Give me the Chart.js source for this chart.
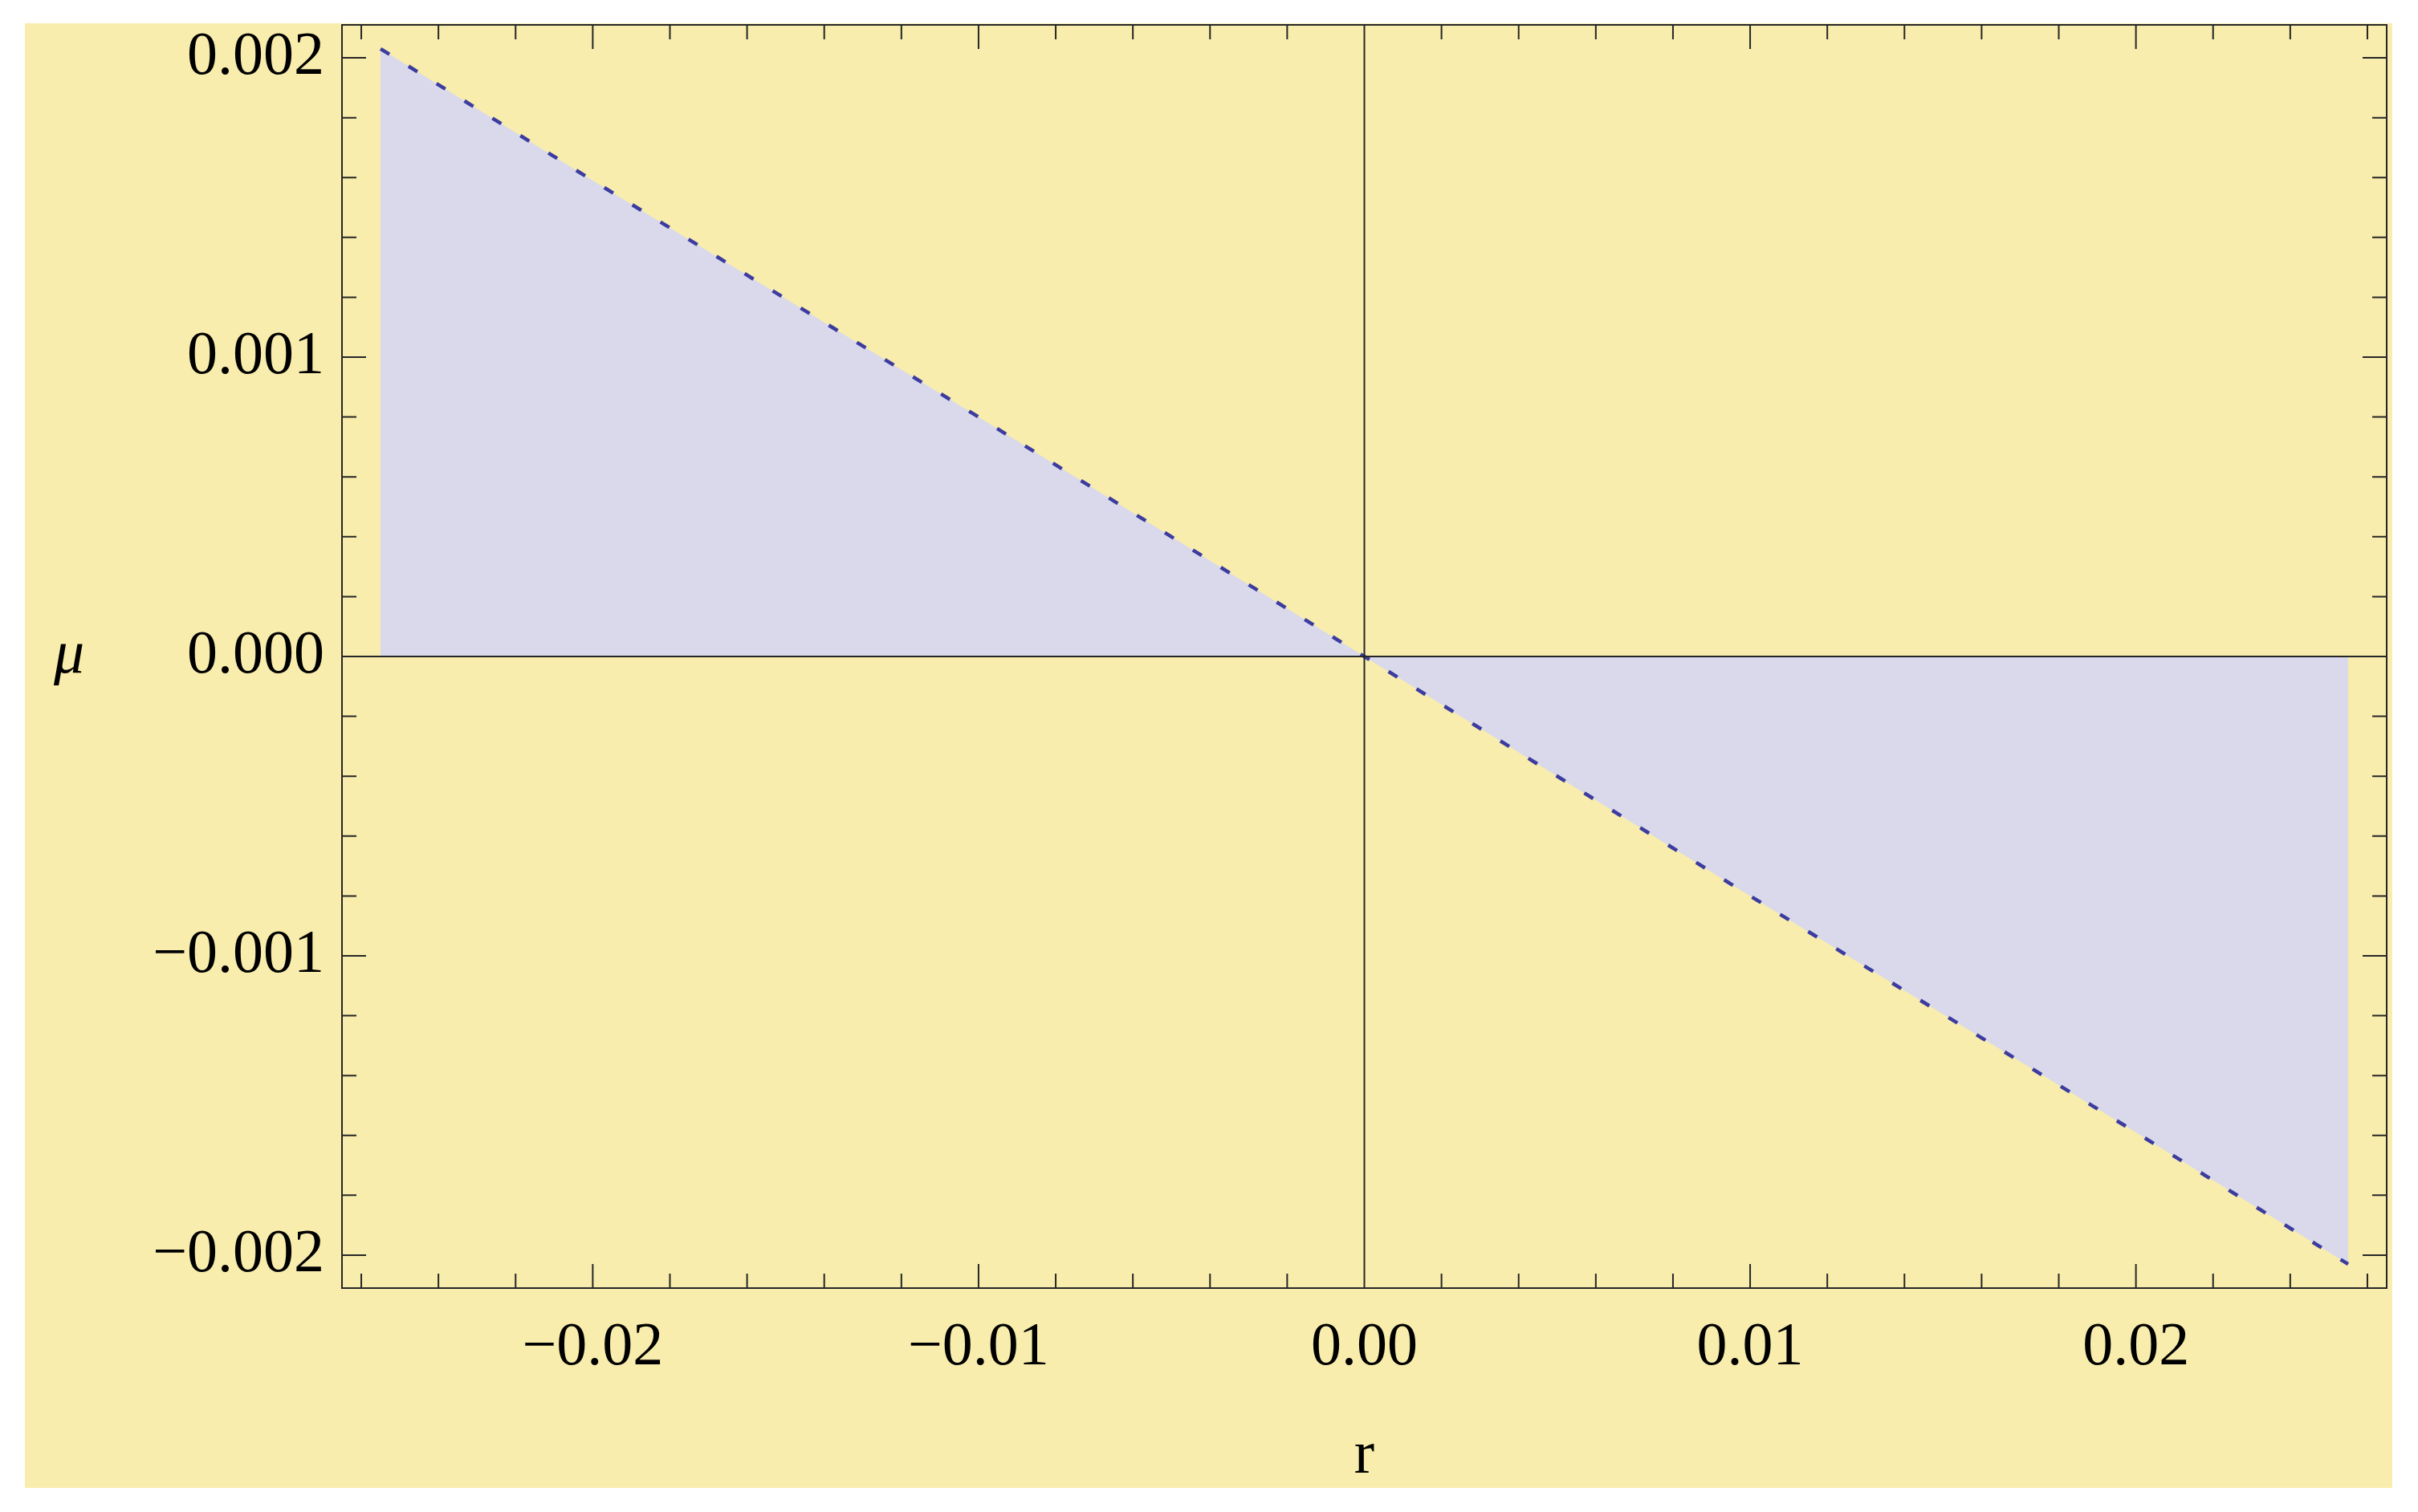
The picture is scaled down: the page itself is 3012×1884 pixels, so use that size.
<!DOCTYPE html>
<html>
<head>
<meta charset="utf-8">
<script src="https://cdn.jsdelivr.net/npm/chart.js@4/dist/chart.umd.min.js"></script>
<style>
  html, body { margin: 0; padding: 0; background: #ffffff; }
  #wrap {
    position: absolute;
    left: 31px; top: 29px;
    width: 2949px; height: 1825px;
    background: #f8edac;
  }
  canvas { display: block; }
</style>
</head>
<body>
<div id="wrap"><canvas id="chart" width="2949" height="1825"></canvas></div>
<script>
// values
const rValues  = [-0.0255, -0.02, -0.01, 0, 0.01, 0.02, 0.0255];
const muValues = [0.00203, 0.00159, 0.0008, 0, -0.0008, -0.00159, -0.00203];

const xTickValues = [-0.02, -0.01, 0, 0.01, 0.02];
const xTickLabels = ['\u22120.02', '\u22120.01', '0.00', '0.01', '0.02'];
const yTickValues = [-0.002, -0.001, 0, 0.001, 0.002];
const yTickLabels = ['\u22120.002', '\u22120.001', '0.000', '0.001', '0.002'];

const xMinorStep = 0.002;
const yMinorStep = 0.0002;

const fontFamily = "'Liberation Serif', 'Times New Roman', Times, serif";
const frameColor = '#262626';

function buildTicks(step, limit, majors) {
  const out = [];
  const n = Math.floor(limit / step + 1e-9);
  for (let i = -n; i <= n; i++) {
    const v = +(i * step).toFixed(6);
    const big = majors.some(m => Math.abs(m - v) < step / 10);
    out.push({ value: v, big: big });
  }
  return out;
}

function labelFor(values, labels) {
  return function(value) {
    const i = values.findIndex(v => Math.abs(v - value) < 1e-9);
    return i >= 0 ? labels[i] : '';
  };
}

// frame, zero axes, inward ticks and the two axis titles
const framePlugin = {
  id: 'framePlugin',
  afterDatasetsDraw(chart) {
    const { ctx, chartArea: a, scales: { x, y } } = chart;
    ctx.save();
    ctx.strokeStyle = frameColor;
    ctx.lineWidth = 2;
    ctx.beginPath();
    const x0 = x.getPixelForValue(0);
    const y0 = y.getPixelForValue(0);
    ctx.moveTo(x0, a.top); ctx.lineTo(x0, a.bottom);
    ctx.moveTo(a.left, y0); ctx.lineTo(a.right, y0);
    x.ticks.forEach(t => {
      const px = x.getPixelForValue(t.value);
      const len = t.big ? 30 : 18;
      ctx.moveTo(px, a.bottom); ctx.lineTo(px, a.bottom - len);
      ctx.moveTo(px, a.top); ctx.lineTo(px, a.top + len);
    });
    y.ticks.forEach(t => {
      const py = y.getPixelForValue(t.value);
      const len = t.big ? 30 : 18;
      ctx.moveTo(a.left, py); ctx.lineTo(a.left + len, py);
      ctx.moveTo(a.right, py); ctx.lineTo(a.right - len, py);
    });
    ctx.stroke();
    ctx.strokeRect(a.left, a.top, a.right - a.left, a.bottom - a.top);

    ctx.fillStyle = '#000';
    ctx.textAlign = 'center';
    ctx.textBaseline = 'middle';
    ctx.font = 'italic 76px ' + fontFamily;
    ctx.fillText('\u03bc', 55, (a.top + a.bottom) / 2);
    ctx.font = '76px ' + fontFamily;
    ctx.fillText('r', (a.left + a.right) / 2, 1786);
    ctx.restore();
  }
};

new Chart(document.getElementById('chart'), {
  type: 'line',
  data: {
    datasets: [{
      data: rValues.map((r, i) => ({ x: r, y: muValues[i] })),
      borderColor: '#3c3ca0',
      borderWidth: 4.5,
      borderDash: [13, 28],
      backgroundColor: '#d9d9eb',
      fill: 'origin',
      pointRadius: 0,
      tension: 0
    }]
  },
  options: {
    responsive: false,
    animation: false,
    layout: { padding: { top: 2, right: 7, left: 0, bottom: 0 } },
    plugins: {
      legend: { display: false },
      tooltip: { enabled: false }
    },
    scales: {
      x: {
        type: 'linear',
        min: -0.0265,
        max: 0.0265,
        grid: { display: false },
        border: { display: false },
        afterBuildTicks(scale) {
          scale.ticks = buildTicks(xMinorStep, 0.0265, xTickValues);
        },
        afterFit(scale) {
          scale.height = 249;
          scale.paddingLeft = 0;
          scale.paddingRight = 0;
          scale.paddingTop = 0;
          scale.paddingBottom = 0;
        },
        ticks: {
          autoSkip: false,
          maxRotation: 0,
          padding: 21,
          color: '#000',
          font: { family: fontFamily, size: 76 },
          callback: labelFor(xTickValues, xTickLabels)
        }
      },
      y: {
        type: 'linear',
        min: -0.00211,
        max: 0.00211,
        grid: { display: false },
        border: { display: false },
        afterBuildTicks(scale) {
          scale.ticks = buildTicks(yMinorStep, 0.00211, yTickValues);
        },
        afterFit(scale) {
          scale.width = 395;
          scale.paddingLeft = 0;
          scale.paddingRight = 0;
          scale.paddingTop = 0;
          scale.paddingBottom = 0;
        },
        ticks: {
          autoSkip: false,
          padding: 14,
          color: '#000',
          font: { family: fontFamily, size: 76 },
          callback: labelFor(yTickValues, yTickLabels)
        }
      }
    }
  },
  plugins: [framePlugin]
});
</script>
</body>
</html>
